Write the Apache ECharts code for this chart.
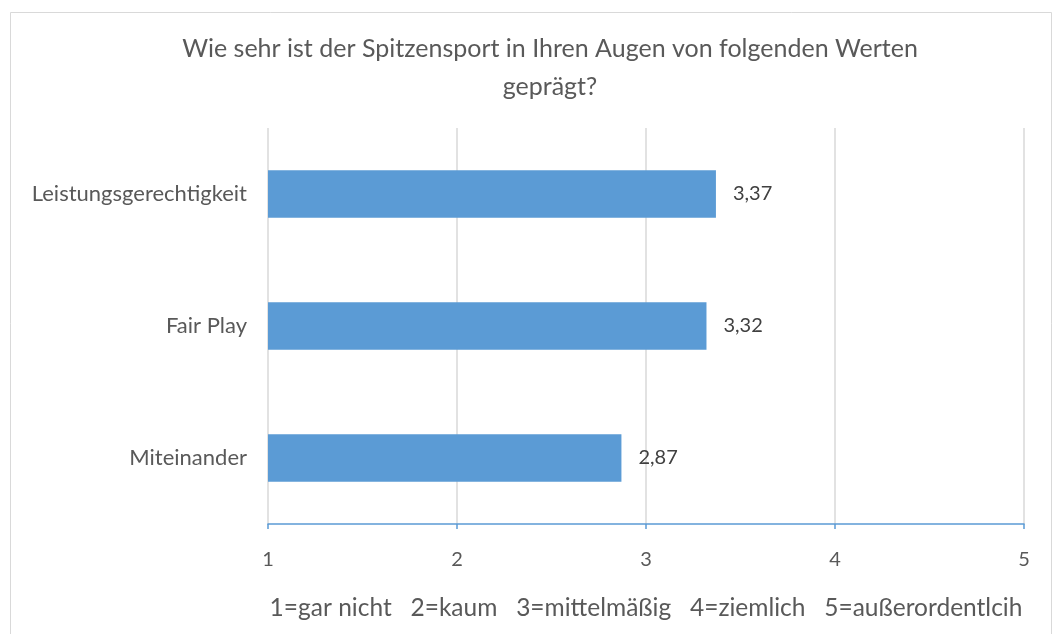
<!DOCTYPE html>
<html><head><meta charset="utf-8">
<script src="https://cdn.jsdelivr.net/npm/echarts@6/dist/echarts.min.js"></script>
<style>html,body{margin:0;padding:0;background:#fff}#c{width:1054px;height:634px}</style>
</head><body><div id="c"></div>
<script>
const titleText = 'Wie sehr ist der Spitzensport in Ihren Augen von folgenden Werten\ngeprägt?';
const categories = ['Miteinander', 'Fair Play', 'Leistungsgerechtigkeit'];
const values = [2.87, 3.32, 3.37];
const scaleNote = '1=gar nicht   2=kaum   3=mittelmäßig   4=ziemlich   5=außerordentlcih';
const axisMin = 1, axisMax = 5, axisStep = 1;

const font = 'Lato, "Open Sans", sans-serif';
const chart = echarts.init(document.getElementById('c'), null, {renderer: 'canvas'});
chart.setOption({
  animation: false,
  backgroundColor: '#fff',
  graphic: [{type: 'rect', shape: {x: 10.5, y: 12.5, width: 1041, height: 640}, style: {fill: 'none', stroke: '#d9d9d9', lineWidth: 1}, silent: true}],
  title: {
    text: titleText, left: 545, textAlign: 'center', top: 25,
    textStyle: {fontFamily: font, fontSize: 25, fontWeight: 'normal', color: '#595959', lineHeight: 38}
  },
  grid: {left: 268, right: 30, top: 128, bottom: 110},
  xAxis: {
    type: 'value', min: axisMin, max: axisMax, interval: axisStep,
    axisLine: {show: true, lineStyle: {color: '#5B9BD5', width: 1.5}},
    axisTick: {show: true, length: 5, lineStyle: {color: '#5B9BD5', width: 1.5}},
    splitLine: {show: true, lineStyle: {color: '#d9d9d9', width: 1.5}},
    axisLabel: {fontFamily: font, fontSize: 20, color: '#595959', margin: 26, formatter: v => String(v)},
    name: scaleNote, nameLocation: 'middle', nameGap: 72,
    nameTextStyle: {fontFamily: font, fontSize: 24.5, color: '#595959'}
  },
  yAxis: {
    type: 'category', data: categories,
    axisLine: {show: false}, axisTick: {show: false},
    axisLabel: {fontFamily: font, fontSize: 22, color: '#595959', margin: 21}
  },
  series: [{
    type: 'bar', data: values, barWidth: '36%',
    itemStyle: {color: '#5B9BD5'},
    label: {show: true, position: 'right', distance: 17, fontFamily: font, fontSize: 20, color: '#404040',
      formatter: p => p.value.toFixed(2).replace('.', ',')}
  }]
});
</script></body></html>
